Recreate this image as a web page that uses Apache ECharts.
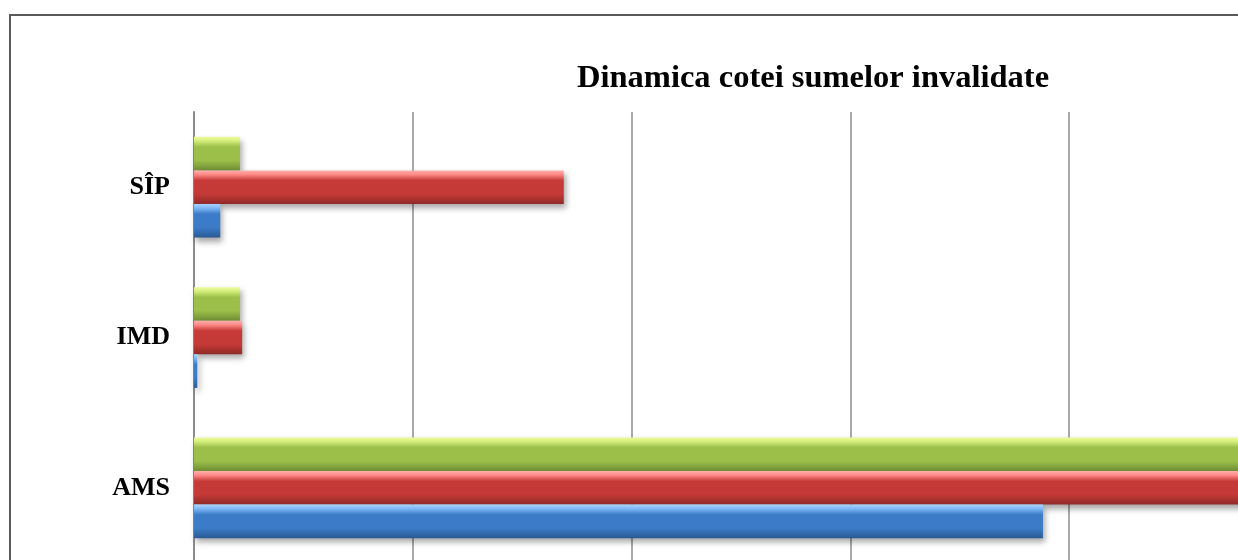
<!DOCTYPE html>
<html>
<head>
<meta charset="utf-8">
<script src="https://cdn.jsdelivr.net/npm/echarts@6/dist/echarts.min.js"></script>
<style>
  html, body { margin: 0; padding: 0; background: #fff; }
  #chart { width: 1238px; height: 560px; }
</style>
</head>
<body>
<div id="chart"></div>
<script>
// categories bottom -> top, like the original
const categories = ['AMS', 'IMD', 'SÎP']
// values per series (same order as categories)
const greenValues = [48.6, 2.1, 2.1]
const redValues = [49.0, 2.2, 16.9]
const blueValues = [38.8, 0.15, 1.2]

const chart = echarts.init(document.getElementById('chart'))

// bevel-ish vertical gradient
const bevel = (top, light, main, dark) =>
  new echarts.graphic.LinearGradient(0, 0, 0, 1, [
    { offset: 0, color: top },
    { offset: 0.12, color: light },
    { offset: 0.3, color: main },
    { offset: 0.7, color: main },
    { offset: 1, color: dark }
  ])

const barSeries = (name, data, fill) => ({
  name: name,
  type: 'bar',
  data: data,
  barGap: 0,
  barCategoryGap: '33%',
  itemStyle: {
    color: fill,
    shadowColor: 'rgba(0,0,0,0.35)',
    shadowBlur: 6,
    shadowOffsetY: 4,
    shadowOffsetX: 2
  }
})

const option = {
  animation: false,
  title: {
    text: 'Dinamica cotei sumelor invalidate',
    left: 572,
    top: 57,
    textStyle: {
      fontFamily: 'Liberation Serif',
      fontWeight: 'bold',
      fontSize: 32.5,
      color: '#000'
    }
  },
  graphic: [
    {
      type: 'rect',
      shape: { x: 10, y: 15, width: 1260, height: 600 },
      style: { fill: 'none', stroke: '#5a5a5a', lineWidth: 2 },
      silent: true
    }
  ],
  grid: {
    left: 194,
    top: 112,
    width: 1094,
    bottom: -3,
    outerBoundsMode: 'none',
    containLabel: false
  },
  xAxis: {
    type: 'value',
    min: 0,
    max: 50,
    interval: 10,
    axisLabel: { show: false },
    axisLine: { show: false },
    axisTick: { show: false },
    splitLine: { lineStyle: { color: '#8c8c8c', width: 1.5 } }
  },
  yAxis: {
    type: 'category',
    data: categories,
    axisTick: { show: false },
    axisLine: { lineStyle: { color: '#8c8c8c', width: 2 } },
    axisLabel: {
      margin: 24,
      fontFamily: 'Liberation Serif',
      fontWeight: 'bold',
      fontSize: 26,
      color: '#000'
    }
  },
  // in ECharts horizontal bars the first series sits on top of the group
  series: [
    barSeries('green', greenValues, bevel('#eefc9e', '#d4ee7c', '#9cbf4a', '#6f8e33')),
    barSeries('red', redValues, bevel('#ffb0ae', '#ff8a88', '#c53a37', '#8f2a28')),
    barSeries('blue', blueValues, bevel('#a8d4ff', '#7fb8f5', '#3b7bc8', '#2a5a94'))
  ]
}

chart.setOption(option)
</script>
</body>
</html>
